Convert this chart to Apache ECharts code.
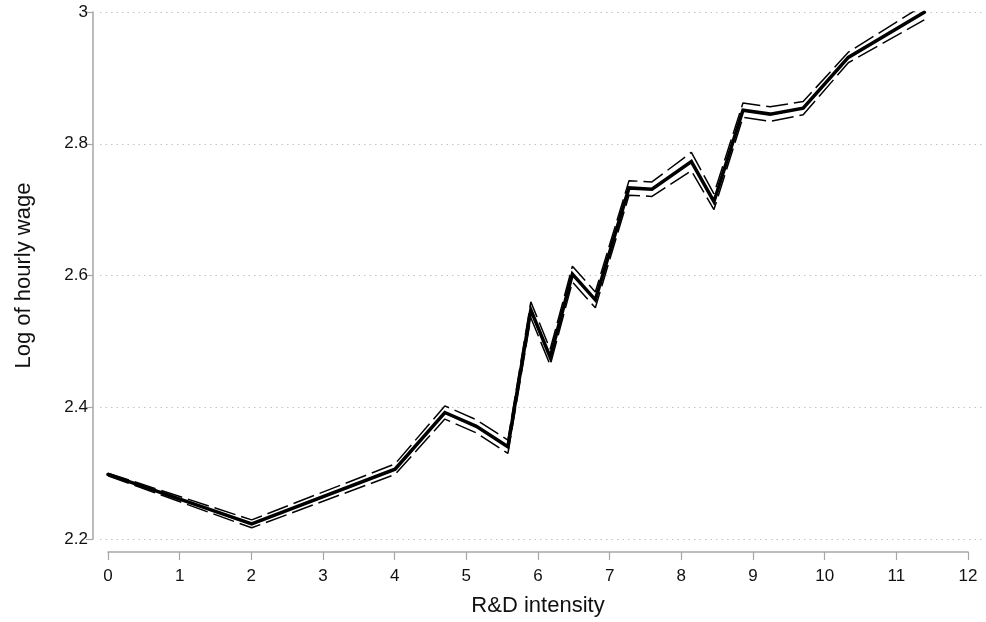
<!DOCTYPE html>
<html>
<head>
<meta charset="utf-8">
<script src="https://cdn.jsdelivr.net/npm/echarts@6/dist/echarts.min.js"></script>
<style>
html,body{margin:0;padding:0;background:#fff;}
#chart{width:986px;height:622px;}
</style>
</head>
<body>
<div id="chart"></div>
<script>
// R&D intensity (x) at each vertex of the fitted line
const rdIntensity = [0, 2.005, 4.005, 4.70, 5.14, 5.58, 5.90, 6.17, 6.48, 6.80, 7.27, 7.59, 8.14, 8.455, 8.86, 9.24, 9.70, 10.33, 11.39];
// Log of hourly wage: point estimate
const logWage = [2.298, 2.223, 2.306, 2.392, 2.371, 2.340, 2.548, 2.476, 2.602, 2.563, 2.733, 2.731, 2.773, 2.712, 2.851, 2.845, 2.854, 2.931, 2.9995];
// Upper and lower confidence bounds
const upperCI = [2.300, 2.229, 2.314, 2.402, 2.381, 2.350, 2.560, 2.488, 2.614, 2.575, 2.744, 2.742, 2.787, 2.724, 2.862, 2.856, 2.864, 2.939, 3.011];
const lowerCI = [2.296, 2.217, 2.298, 2.382, 2.361, 2.330, 2.536, 2.464, 2.590, 2.551, 2.722, 2.720, 2.759, 2.700, 2.840, 2.834, 2.844, 2.923, 2.988];
const xTicks = {min: 0, max: 12, interval: 1};
const yTicks = {min: 2.2, max: 3, interval: 0.2};

const pair = (xs, ys) => xs.map((x, i) => [x, ys[i]]);
const font = 'Liberation Sans, Arial, sans-serif';
const axisGrey = '#a6a6a6';

const chart = echarts.init(document.getElementById('chart'), null, {renderer: 'canvas'});
chart.setOption({
  animation: false,
  backgroundColor: '#ffffff',
  grid: [
    {left: 108, right: 18, top: 12, bottom: 83},
    {left: 100, right: 2, top: 12, bottom: 83}
  ],
  xAxis: [
    {
      gridIndex: 0, type: 'value', min: xTicks.min, max: xTicks.max, interval: xTicks.interval,
      offset: 13,
      name: 'R&D intensity', nameLocation: 'middle', nameGap: 43,
      nameTextStyle: {fontFamily: font, fontSize: 22, color: '#111'},
      axisLine: {show: true, onZero: false, lineStyle: {color: axisGrey, width: 1.5}},
      axisTick: {show: true, inside: false, length: 8, lineStyle: {color: axisGrey, width: 1.2}},
      axisLabel: {fontFamily: font, fontSize: 17, color: '#111', margin: 16},
      splitLine: {show: false}
    },
    {
      gridIndex: 1, type: 'value', min: 0, max: 1, show: false
    }
  ],
  yAxis: [
    {
      gridIndex: 0, type: 'value', min: yTicks.min, max: yTicks.max, interval: yTicks.interval,
      offset: 15,
      name: 'Log of hourly wage', nameLocation: 'middle', nameGap: 58,
      nameTextStyle: {fontFamily: font, fontSize: 22, color: '#111'},
      axisLine: {show: true, onZero: false, lineStyle: {color: axisGrey, width: 1.5}},
      axisTick: {show: true, inside: false, length: 7, lineStyle: {color: axisGrey, width: 1.2}},
      axisLabel: {fontFamily: font, fontSize: 17, color: '#111', margin: 5},
      splitLine: {show: false}
    },
    {
      gridIndex: 1, type: 'value', min: yTicks.min, max: yTicks.max, interval: yTicks.interval,
      axisLine: {show: false}, axisTick: {show: false}, axisLabel: {show: false},
      splitLine: {show: true, lineStyle: {color: '#c4c4c4', type: [1.5, 4], width: 1.2}}
    }
  ],
  series: [
    {
      type: 'line', xAxisIndex: 0, yAxisIndex: 0, data: pair(rdIntensity, upperCI),
      showSymbol: false, symbol: 'none',
      lineStyle: {color: '#000', width: 1.5, type: [22, 6]}, z: 3
    },
    {
      type: 'line', xAxisIndex: 0, yAxisIndex: 0, data: pair(rdIntensity, lowerCI),
      showSymbol: false, symbol: 'none',
      lineStyle: {color: '#000', width: 1.5, type: [22, 6]}, z: 3
    },
    {
      type: 'line', xAxisIndex: 0, yAxisIndex: 0, data: pair(rdIntensity, logWage),
      showSymbol: false, symbol: 'none',
      lineStyle: {color: '#000', width: 3.5, cap: 'round', join: 'miter'}, z: 4
    }
  ]
});
</script>
</body>
</html>
